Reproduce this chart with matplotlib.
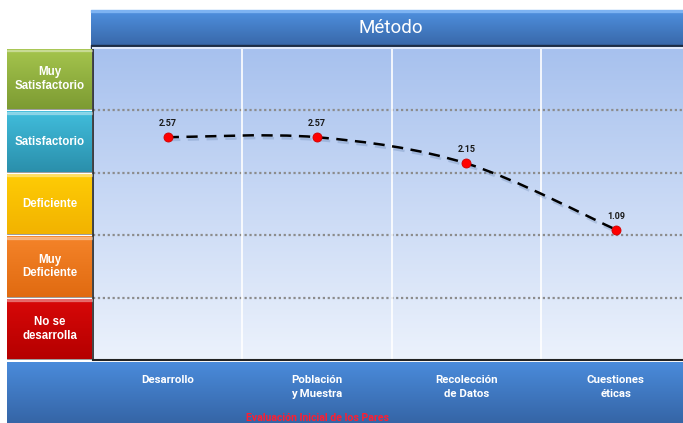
import numpy as np
import matplotlib
matplotlib.use("Agg")
import matplotlib.pyplot as plt
from matplotlib.path import Path
from matplotlib.patches import PathPatch
import matplotlib.patheffects as pe

# data
categories = ["Desarrollo", "Población\ny Muestra", "Recolección\nde Datos", "Cuestiones\néticas"]
scores = [2.57, 2.57, 2.15, 1.09]
levels = ["Muy\nSatisfactorio", "Satisfactorio", "Deficiente", "Muy\nDeficiente", "No se\ndesarrolla"]
level_pos = [3.5, 2.5, 1.5, 0.5, -0.5]
level_colors = [("#a6c64e", "#7c9a32"), ("#41bedd", "#2a8eaa"), ("#ffcd05", "#f2b200"),
                ("#f5842a", "#e06a10"), ("#d90808", "#b40000")]
title = "Método"
xlabel = "Evaluación Inicial de los Pares"

W, H = 683, 423
fig = plt.figure(figsize=(W / 100, H / 100), dpi=100)
fig.patch.set_facecolor("white")


def vgrad(ax, extent, top, bottom, zorder=0, clip=None):
    c1 = np.array(matplotlib.colors.to_rgb(top))
    c2 = np.array(matplotlib.colors.to_rgb(bottom))
    t = np.linspace(0, 1, 256)[:, None]
    img = (c1 * (1 - t) + c2 * t)[:, None, :]
    im = ax.imshow(img, extent=extent, aspect="auto", zorder=zorder, origin="upper",
                   interpolation="bilinear")
    if clip is not None:
        im.set_clip_path(clip)
    return im


# background axes in pixel coords for the title bar and bottom bar
bg = fig.add_axes([0, 0, 1, 1])
bg.set_xlim(0, W)
bg.set_ylim(H, 0)
bg.axis("off")
vgrad(bg, (91, W, 46, 10), "#4f91e0", "#3867a8", zorder=1)
bg.fill_between([91, W], 10, 12, color="#7db3f2", zorder=2)
bg.fill_between([91, W], 45, 48, color="#1c2c44", zorder=2)
vgrad(bg, (7, W, H, 362), "#4a8bdb", "#3565a6", zorder=1)
bg.text(391, 28, title, color="white", fontsize=13.5, family="Roboto",
        ha="center", va="center", zorder=3)
bg.set_xlim(0, W)
bg.set_ylim(H, 0)

# main plot axes
x0, x1, y0, y1 = 93, W, 48, 360
ax = fig.add_axes([x0 / W, 1 - y1 / H, (x1 - x0) / W, (y1 - y0) / H])
xmax = 3 + (W - 616) / 149
ax.set_xlim(-0.5, xmax)
ax.set_ylim(-1, 4)
vgrad(ax, (-0.5, xmax, -1, 4), "#a7c1ee", "#ecf2fc", zorder=0)
ax.set_xlim(-0.5, xmax)
ax.set_ylim(-1, 4)

for y in [0, 1, 2, 3]:
    ax.axhline(y, color="#8c8c8c", lw=1.6, ls=(0, (1, 1.2)), zorder=1)
for xv in [0.5, 1.5, 2.5]:
    ax.axvline(xv, color="white", lw=1.2, zorder=1)

# smoothed line as cubic bezier segments through the data points
xs = np.arange(len(scores), dtype=float)
ys = np.array(scores)
pts = np.column_stack([xs, ys])
verts = [pts[0]]
codes = [Path.MOVETO]
for i in range(len(pts) - 1):
    p0 = pts[max(i - 1, 0)]
    p1 = pts[i]
    p2 = pts[i + 1]
    p3 = pts[min(i + 2, len(pts) - 1)]
    c1 = p1 + (p2 - p0) / 6
    c2 = p2 - (p3 - p1) / 6
    verts += [c1, c2, p2]
    codes += [Path.CURVE4] * 3
curve = PathPatch(Path(verts, codes), fill=False, edgecolor="black", lw=1.8,
                  ls=(0, (4.5, 3)), zorder=3,
                  path_effects=[pe.SimpleLineShadow(offset=(1, -2), shadow_color="#5070a0", alpha=0.25),
                                pe.Normal()])
ax.add_patch(curve)
ax.plot(xs, ys, "o", color="#ff0000", ms=6.5, mec="#d00000", mew=0.6, zorder=4)
for xv, v in zip(xs, ys):
    ax.annotate(f"{v:.2f}", (xv, v), xytext=(0, 6.5), textcoords="offset points",
                ha="center", va="bottom", fontsize=6.5, fontweight="bold",
                family="Roboto", color="#1a1a1a", zorder=5)

ax.set_xticks(xs)
ax.set_xticklabels(categories, color="white", fontsize=8.2, fontweight="bold",
                   family="Roboto", linespacing=1.45)
ax.tick_params(axis="x", length=0, pad=11)
ax.set_yticks([])
ax.spines["right"].set_visible(False)
ax.spines["top"].set_color("#dfe9fb")
ax.spines["top"].set_linewidth(1.5)
ax.spines["left"].set_color("#222222")
ax.spines["bottom"].set_color("#222222")
ax.spines["left"].set_linewidth(1.2)
ax.spines["bottom"].set_linewidth(1.5)

fig.text(317 / W, 1 - 418 / H, xlabel, color="#ff1e30", fontsize=7.6, fontweight="bold",
         family="Roboto", ha="center", va="center")

# left level boxes sharing the y scale
lax = fig.add_axes([7 / W, 1 - y1 / H, 85 / W, (y1 - y0) / H])
lax.set_xlim(0, 1)
lax.set_ylim(-1, 4)
lax.axis("off")
bars = lax.barh(level_pos, 1, left=0, height=0.965, color="none", edgecolor="#8a8a8a", lw=0.6)
for b, yc, lab, (ct, cb) in zip(bars, level_pos, levels, level_colors):
    vgrad(lax, (0, 1, yc - 0.5, yc + 0.5), ct, cb, zorder=1, clip=b)
    lax.fill_between([0, 1], yc + 0.445, yc + 0.475, color="white", alpha=0.3, zorder=2)
    lax.text(0.5, yc, lab, color="white", fontsize=8.3, fontweight="bold",
             family="Liberation Sans", ha="center", va="center", linespacing=1.2, zorder=3)
lax.set_xlim(0, 1)
lax.set_ylim(-1, 4)

fig.savefig("out.png", dpi=100)
